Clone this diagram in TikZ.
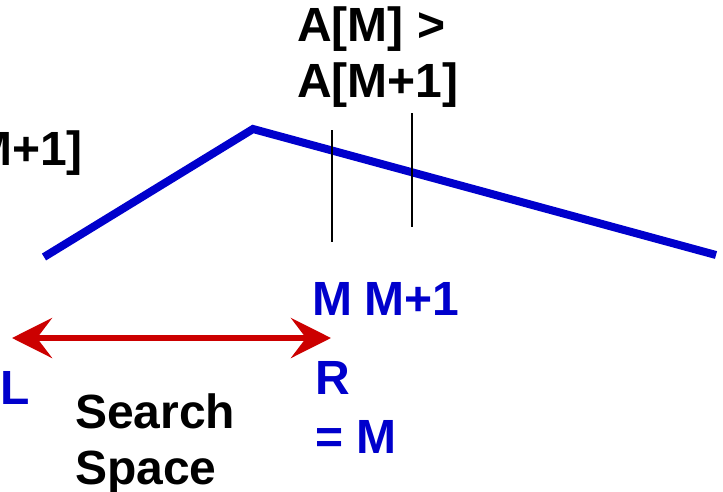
\documentclass[tikz,border=0pt]{standalone}
\usepackage{fontspec}
\setmainfont{Liberation Sans}
\usetikzlibrary{arrows.meta}
\definecolor{peakblue}{RGB}{0,0,204}
\definecolor{spanred}{RGB}{204,0,0}

\begin{document}
\begin{tikzpicture}[x=1pt,y=-1pt,>={Stealth[length=40pt,width=40pt,inset=15pt]},
  lbl/.style={inner sep=0pt,font=\fontsize{48}{56}\selectfont\bfseries,align=left},
  idx/.style={lbl,text=peakblue}]
\clip (0,0) rectangle (723,491);
\draw[peakblue,line width=8pt] (44,257)--(253,129)--(716,255);
\coordinate (mtop) at (332,130); \coordinate (mbot) at (332,242);
\coordinate (ntop) at (412,113); \coordinate (nbot) at (412,227);
\draw[line width=1.5pt] (mtop)--(mbot) (ntop)--(nbot);
\node[lbl,anchor=base east] (oldcond) at (83,165) {A[M]\\<A[M+1]};
\node[lbl,anchor=base west] (cond) at (297,97) {A[M] >\\A[M+1]};
\node[idx,anchor=base] (m) at (332,315) {M};
\node[idx,anchor=base] (mnext) at (412,315) {M+1};
\node[idx,anchor=base west] (l) at (0,404) {L};
\node[idx,anchor=base west,font=\fontsize{48}{59}\selectfont\bfseries] (r) at (315,453) {R\\= M};
\node[lbl,anchor=base west] (space) at (75,484) {Search\\Space};
\coordinate (sleft) at (12,338); \coordinate (sright) at (331,338);
\draw[<->,spanred,line width=6pt] (sleft)--(sright);
\end{tikzpicture}
\end{document}
